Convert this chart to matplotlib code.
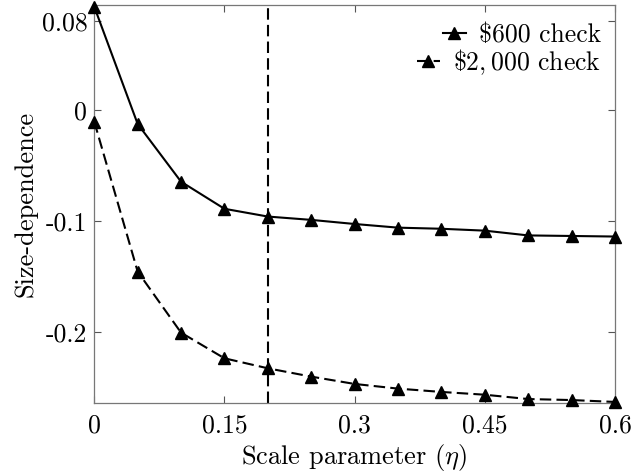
import numpy as np
import matplotlib.pyplot as plt

# font: Computer Modern look
plt.rcParams['font.family'] = 'serif'
plt.rcParams['font.serif'] = ['cmr10']
plt.rcParams['mathtext.fontset'] = 'cm'
plt.rcParams['axes.unicode_minus'] = False

# data
eta = [0.0, 0.05, 0.1, 0.15, 0.2, 0.25, 0.3, 0.35, 0.4, 0.45, 0.5, 0.55, 0.6]
check_600 = [0.093, -0.0126, -0.0646, -0.089, -0.096, -0.099, -0.1027,
             -0.106, -0.107, -0.1087, -0.113, -0.1135, -0.114]
check_2000 = [-0.0105, -0.1456, -0.2006, -0.2237, -0.2327, -0.2402, -0.2468,
              -0.251, -0.254, -0.2565, -0.2604, -0.2613, -0.263]
eta_chosen = 0.2

xticks = [0, 0.15, 0.3, 0.45, 0.6]
xtick_labels = ['0', '0.15', '0.3', '0.45', '0.6']
yticks = [-0.2, -0.1, 0, 0.08]
ytick_labels = ['-0.2', '-0.1', '0', '0.08']

dash = (0, (5.5, 2.5))

fig = plt.figure(figsize=(6.31, 4.74), dpi=100)
ax = fig.add_axes([0.1494, 0.1504, 0.8252, 0.8384])

ax.plot(eta, check_600, marker='^', ls='-', color='black', lw=1.5, ms=8.5,
        clip_on=False, zorder=3, label=r'\$600 check')
ax.plot(eta, check_2000, marker='^', ls=dash, color='black', lw=1.5, ms=8.5,
        clip_on=False, zorder=3, label=r'\$$2,000$ check')
ax.axvline(eta_chosen, color='black', ls=dash, lw=1.5)

ax.set_xlim(0, 0.6)
ax.set_ylim(-0.2637, 0.0943)
ax.set_xticks(xticks)
ax.set_xticklabels(xtick_labels)
ax.set_yticks(yticks)
ax.set_yticklabels(ytick_labels)
ax.tick_params(direction='in', top=True, right=True, labelsize=18.5,
               color='#555555', length=5, width=0.8)
ax.tick_params(axis='x', pad=8)
ax.tick_params(axis='y', pad=5)
for sp in ax.spines.values():
    sp.set_color('#777777')
    sp.set_linewidth(0.9)

ax.set_xlabel(r'Scale parameter ($\eta$)', fontsize=19, labelpad=3)
ax.set_ylabel('Size-dependence', fontsize=19, labelpad=3)

leg = ax.legend(loc='upper right', bbox_to_anchor=(1.0, 0.99), frameon=False,
                fontsize=18.5, handlelength=0.9, handletextpad=0.5,
                borderaxespad=0.15, labelspacing=0.0)
# right-align the legend rows like the original
for col in leg._legend_handle_box.get_children():
    col.align = 'right'

fig.savefig('out.png', dpi=100)
